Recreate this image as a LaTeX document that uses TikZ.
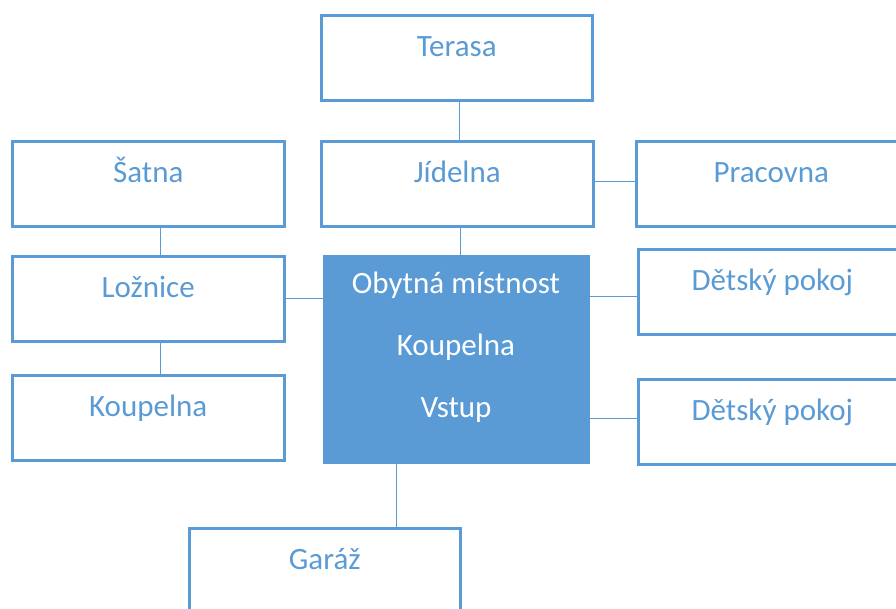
\documentclass[tikz,border=0pt]{standalone}
\usepackage{fontspec}
\setmainfont{Carlito}
\definecolor{bl}{HTML}{5B9BD5}
\begin{document}
\begin{tikzpicture}[x=1pt,y=-1pt,
  box/.style={draw=bl, line width=2.5pt, fill=white, anchor=north west, inner sep=0pt,
    text=bl, font=\fontsize{31}{36}\selectfont, text height=41pt, text depth=44pt,
    minimum height=85pt},
  midbox/.style={draw=bl, line width=1pt, fill=bl, anchor=north west, inner sep=0pt,
    minimum width=266pt, minimum height=208pt},
  wtxt/.style={anchor=base, inner sep=0pt, text=white, font=\fontsize{31}{36}\selectfont},
  link/.style={draw=bl, line width=1.3pt}]
\useasboundingbox (0,0) rectangle (896,608);
\clip (0,0) rectangle (896,608);

\node[box, minimum width=271pt] (terasa) at (320,14) {Terasa};
\node[box, minimum width=272pt] (satna) at (11,140) {Šatna};
\node[box, minimum width=272pt] (jidelna) at (320,140) {Jídelna};
\node[box, minimum width=270pt] (pracovna) at (635,140) {Pracovna};
\node[box, minimum width=272pt] (loznice) at (11,255) {Ložnice};
\node[box, minimum width=268pt] (dp1) at (637,248) {Dětský pokoj};
\node[box, minimum width=272pt] (koupelna) at (11,374) {Koupelna};
\node[box, minimum width=268pt] (dp2) at (637,378) {Dětský pokoj};
\node[box, minimum width=271pt] (garaz) at (188,527) {Garáž};

\node[midbox] (mid) at (323,255) {};
\node[wtxt] (t1) at (456,293) {Obytná místnost};
\node[wtxt] (t2) at (456,355) {Koupelna};
\node[wtxt] (t3) at (456,417) {Vstup};

\draw[link] ([xshift=2.5pt]terasa.south) -- ([xshift=2.5pt]terasa.south |- jidelna.north);
\draw[link] ([xshift=4pt]mid.north |- jidelna.south) -- ([xshift=4pt]mid.north);
\draw[link] ([yshift=2.5pt]jidelna.east |- pracovna.west) -- ([yshift=2.5pt]pracovna.west);
\draw[link] ([xshift=12pt]satna.south) -- ([xshift=12pt]loznice.north);
\draw[link] ([xshift=12pt]loznice.south) -- ([xshift=12pt]koupelna.north);
\draw[link] (loznice.east) -- (loznice.east -| mid.west);
\draw[link] ([yshift=-4.5pt]dp1.west -| mid.east) -- ([yshift=-4.5pt]dp1.west);
\draw[link] ([yshift=3.5pt]dp2.west -| mid.east) -- ([yshift=3.5pt]dp2.west);
\draw[link] ([xshift=-60pt]mid.south) -- ([xshift=-60pt]mid.south |- garaz.north);
\end{tikzpicture}
\end{document}
